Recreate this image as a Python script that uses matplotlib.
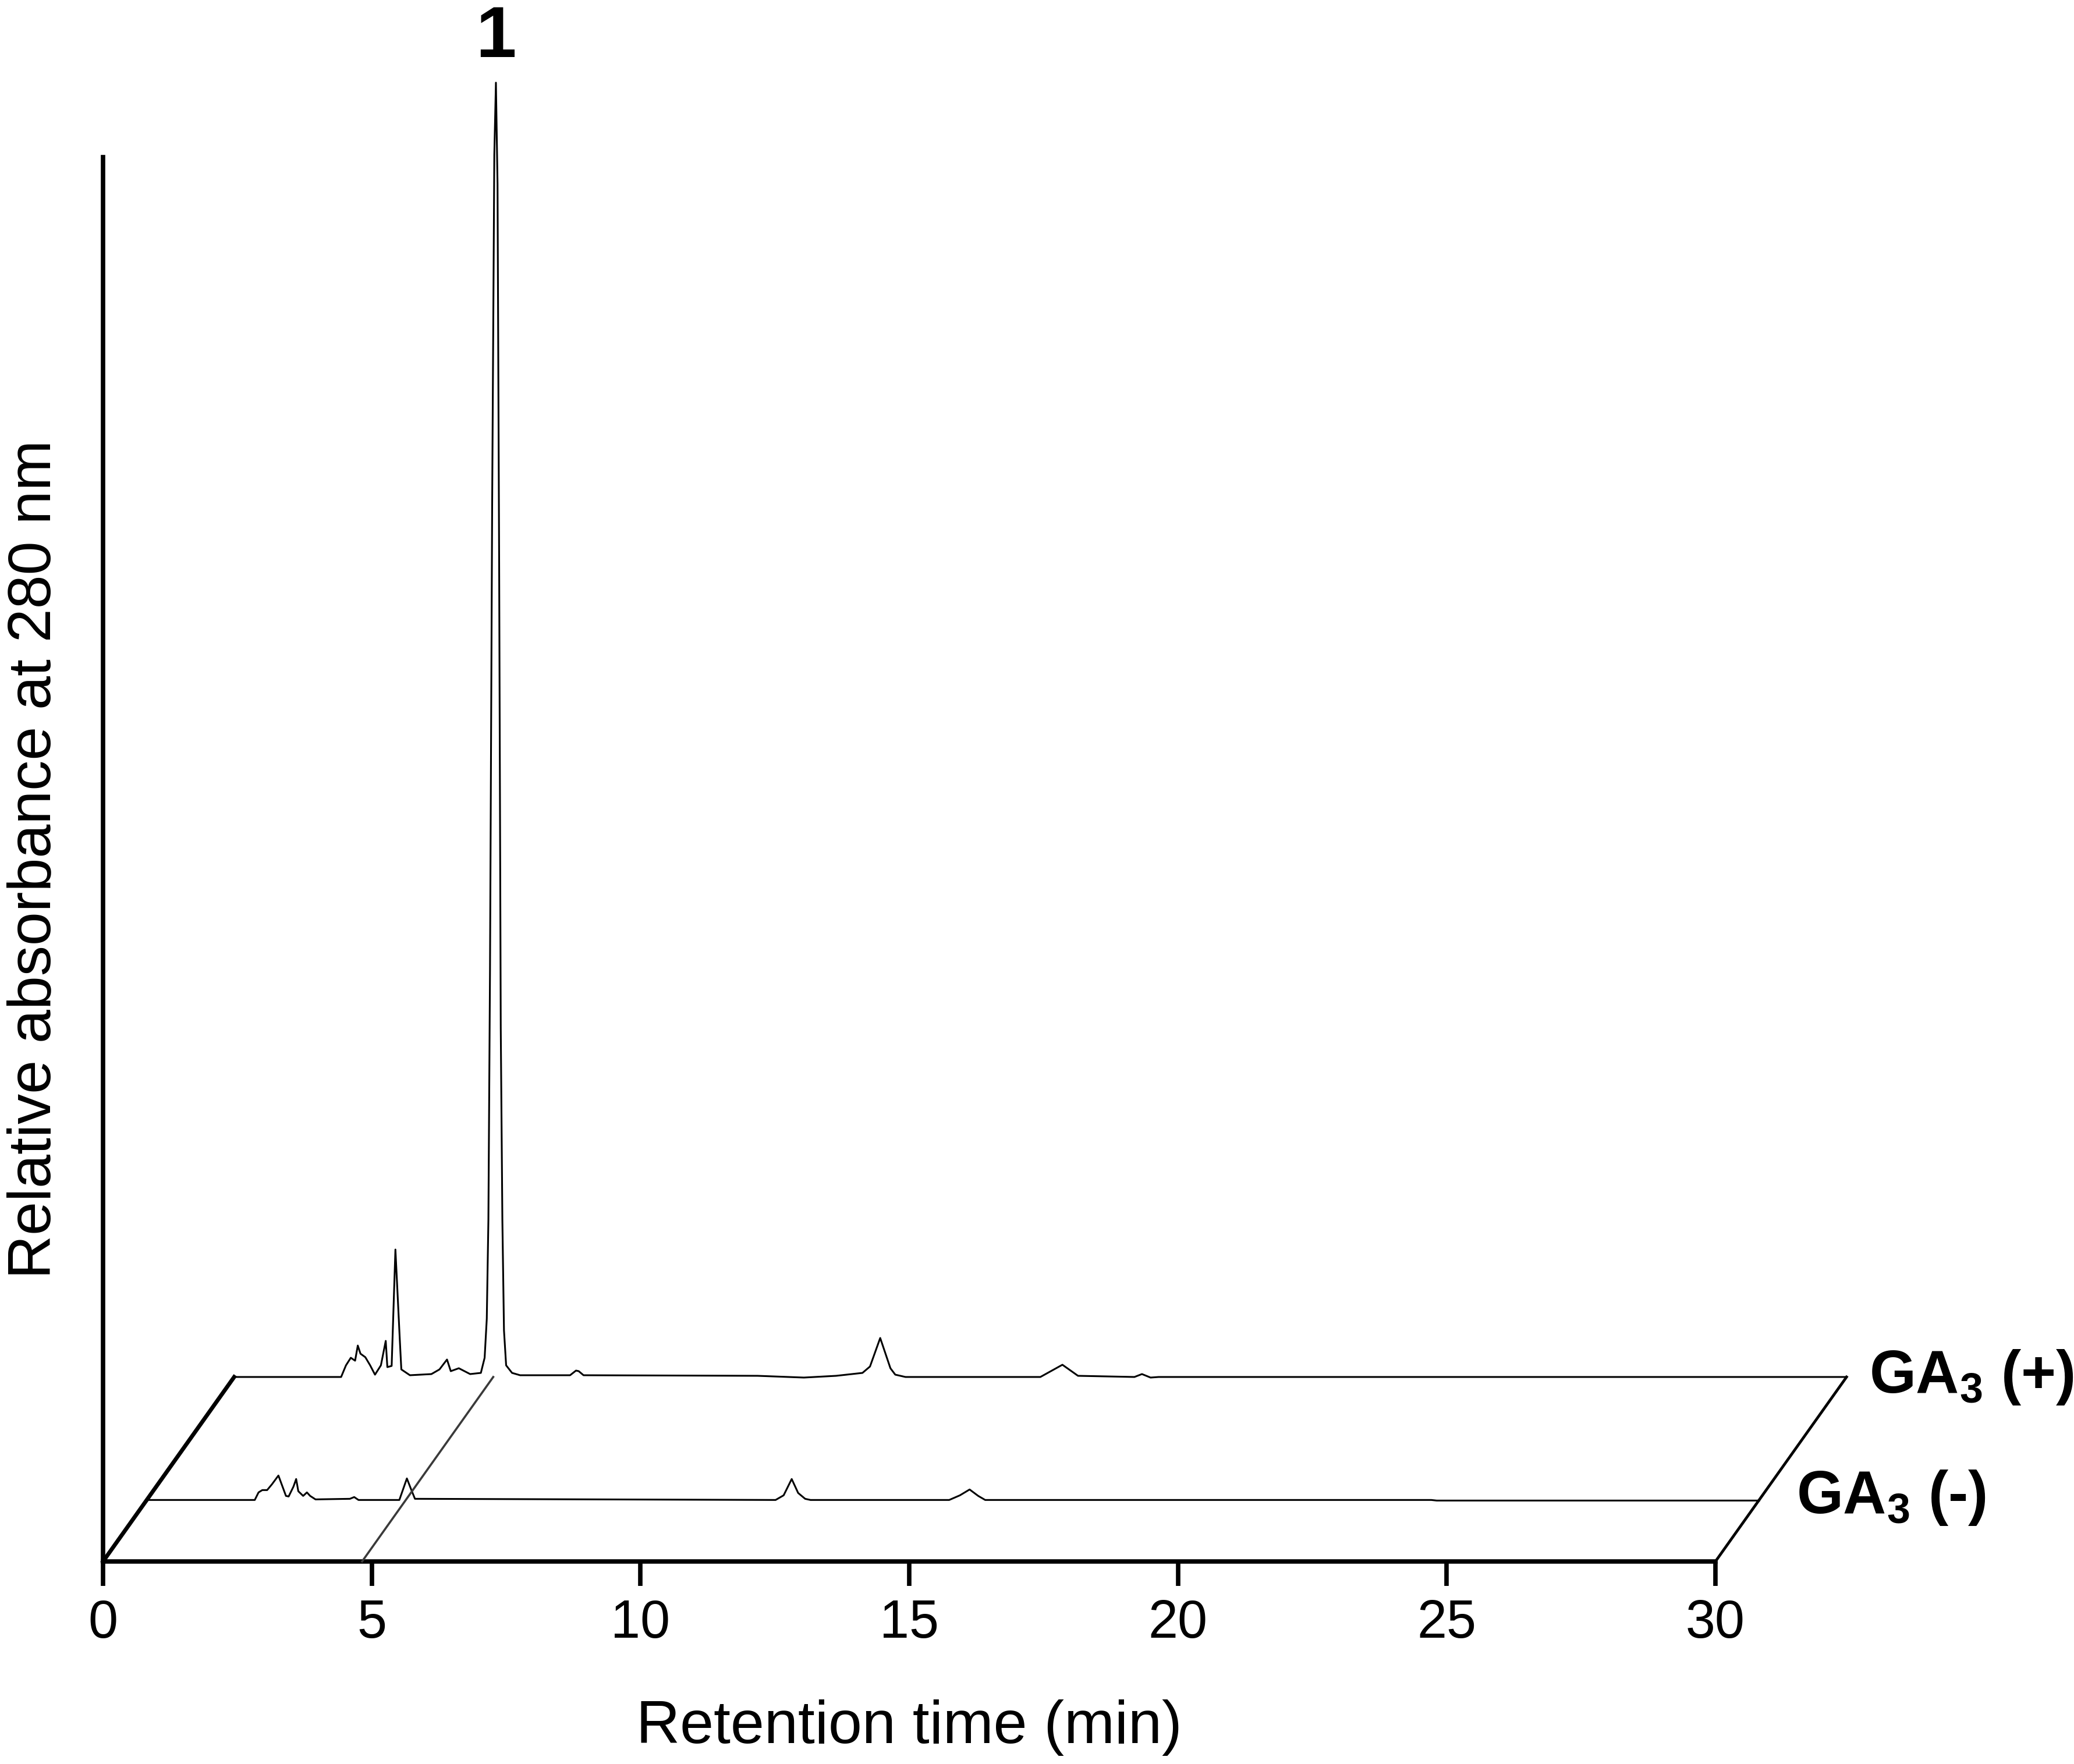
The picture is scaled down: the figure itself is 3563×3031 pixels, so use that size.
import matplotlib.pyplot as plt

plt.rcParams['font.family'] = ['Liberation Sans', 'DejaVu Sans']
plt.rcParams['mathtext.fontset'] = 'custom'
plt.rcParams['mathtext.rm'] = 'Liberation Sans'
plt.rcParams['mathtext.bf'] = 'Liberation Sans:bold'

# retention time (min) / relative absorbance (arb. units)
t_plus = [0, 1.99, 2.08, 2.17, 2.25, 2.30, 2.35, 2.44, 2.53, 2.62, 2.73, 2.82, 2.85, 2.93,
          3.00, 3.08, 3.11, 3.27, 3.67, 3.82, 3.96, 4.03, 4.18, 4.39, 4.59, 4.66, 4.70,
          4.73, 4.76, 4.80, 4.84, 4.87, 4.90, 4.93, 4.96, 4.99, 5.02, 5.06, 5.17, 5.32,
          6.25, 6.36, 6.41, 6.50, 9.74, 10.6, 11.2, 11.69, 11.83, 12.02, 12.21, 12.30,
          12.49, 15.0, 15.41, 15.70, 16.75, 16.89, 17.05, 17.2, 30]
a_plus = [0, 0, 2.0, 3.3, 2.8, 5.4, 4.0, 3.4, 2.0, 0.4, 2.0, 6.2, 1.7, 1.9,
          21.9, 6.7, 1.3, 0.3, 0.5, 1.3, 3.0, 1.0, 1.5, 0.5, 0.7, 3.3, 10,
          27, 70, 150, 210, 222.4, 205, 140, 60, 27, 8, 2, 0.7, 0.3,
          0.3, 1.1, 1.0, 0.3, 0.2, -0.1, 0.2, 0.7, 1.8, 6.7, 1.5, 0.4,
          0, 0, 2.1, 0.2, 0, 0.5, -0.1, 0, 0]

t_minus = [0, 2.01, 2.08, 2.15, 2.24, 2.33, 2.45, 2.59, 2.64, 2.73, 2.78, 2.82, 2.91, 2.98,
           3.04, 3.14, 3.78, 3.86, 3.94, 4.70, 4.84, 4.92, 4.99, 11.7, 11.85, 12.0, 12.12,
           12.25, 12.35, 14.93, 15.13, 15.31, 15.47, 15.6, 23.9, 24.0, 30]
a_minus = [0, 0, 1.3, 1.7, 1.7, 2.7, 4.2, 0.7, 0.6, 2.3, 3.6, 1.5, 0.7, 1.3,
           0.7, 0.1, 0.2, 0.5, 0, 0, 3.7, 1.8, 0.2, 0, 0.8, 3.6, 1.2,
           0.2, 0, 0, 0.8, 1.8, 0.7, 0, 0, -0.1, -0.1]

xticks = [0, 5, 10, 15, 20, 25, 30]
peak1_time = 4.82
peak1_label = '1'

# pseudo 3D: the back trace is shifted right and up by (dx, dy)
dx, dy = 2.44, 31.7
traces = [(t_plus, a_plus, 1.0, 'GA$_\\mathbf{3}$ (+)', (32.86, 29.0)),
          (t_minus, a_minus, 1 / 3, 'GA$_\\mathbf{3}$ (-)', (31.51, 8.3))]

fig = plt.figure(figsize=(35.63, 30.31), dpi=100)
ax = fig.add_axes([177 / 3563, 348 / 3031, 2770 / 3563, 2413 / 3031])
ax.set_xlim(0, 30)
ax.set_ylim(0, 241.3)

for t, a, depth, name, pos in traces:
    ax.plot([v + dx * depth for v in t], [v + dy * depth for v in a],
            color='black', lw=2.2, clip_on=False, zorder=3)
    ax.text(pos[0], pos[1], name, fontsize=74, fontweight='bold',
            ha='left', va='baseline', clip_on=False)

# floor edges and the guide line through peak 1
ax.plot([0, dx], [0, dy], color='black', lw=5.0, clip_on=False, zorder=4)
ax.plot([30, 30 + dx], [0, dy], color='black', lw=3.4, clip_on=False, zorder=4)
ax.plot([peak1_time, peak1_time + dx], [0, dy], color='#3a3a3a', lw=2.6,
        clip_on=False, zorder=5)

ax.text(peak1_time + dx + 0.05, 258.5, peak1_label, fontsize=90, fontweight='bold',
        ha='center', va='baseline', clip_on=False)

for s in ['top', 'right']:
    ax.spines[s].set_visible(False)
for s in ['left', 'bottom']:
    ax.spines[s].set_linewidth(5.5)

ax.set_xticks(xticks)
ax.set_xticklabels([str(v) for v in xticks])
ax.set_yticks([])
ax.tick_params(axis='x', direction='out', length=30, width=5.5, pad=16, labelsize=66)

ax.set_xlabel('Retention time (min)', fontsize=75)
ax.xaxis.set_label_coords(0.5, -0.1293)
ax.xaxis.label.set_va('baseline')
ax.set_ylabel('Relative absorbance at 280 nm', fontsize=75)
ax.yaxis.set_label_coords(-0.0329, 0.5)
ax.yaxis.label.set_va('baseline')

fig.savefig('out.png', dpi=100)
